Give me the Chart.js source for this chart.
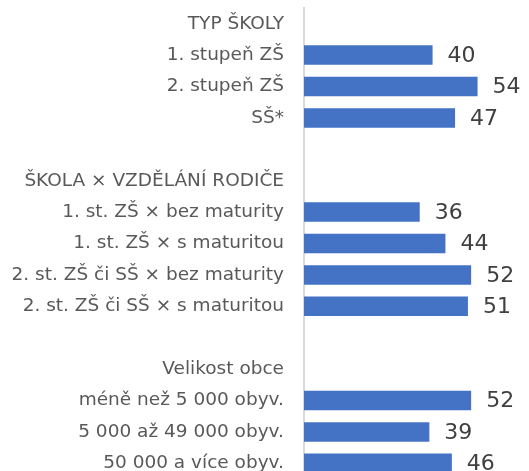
<!DOCTYPE html>
<html>
<head>
<meta charset="utf-8">
<script src="https://cdn.jsdelivr.net/npm/chart.js@4/dist/chart.umd.min.js"></script>
<style>
  html, body { margin: 0; padding: 0; background: #fff; overflow: hidden; }
  #wrap { width: 529px; height: 480px; }
</style>
</head>
<body>
<div id="wrap"><canvas id="chart"></canvas></div>
<script>
// kategorie (včetně nadpisů skupin a prázdných řádků)
const categories = [
    'TYP ŠKOLY',
    '1. stupeň ZŠ',
    '2. stupeň ZŠ',
    'SŠ*',
    '',
    'ŠKOLA × VZDĚLÁNÍ RODIČE',
    '1. st. ZŠ × bez maturity',
    '1. st. ZŠ × s maturitou',
    '2. st. ZŠ či SŠ × bez maturity',
    '2. st. ZŠ či SŠ × s maturitou',
    ' ',
    'Velikost obce',
    'méně než 5 000 obyv.',
    '5 000 až 49 000 obyv.',
    '50 000 a více obyv.'
];
const values = [null, 40, 54, 47, null, null, 36, 44, 52, 51, null, null, 52, 39, 46];

const fontFamily = 'DejaVu Sans';

// popisky hodnot vpravo od sloupců
const valueLabels = {
    id: 'valueLabels',
    afterDatasetsDraw(chart) {
        const ctx = chart.ctx;
        const meta = chart.getDatasetMeta(0);
        ctx.save();
        ctx.font = '22px "' + fontFamily + '"';
        ctx.fillStyle = '#404040';
        ctx.textAlign = 'left';
        ctx.textBaseline = 'middle';
        meta.data.forEach((bar, i) => {
            if (values[i] == null) return;
            ctx.fillText(String(values[i]), bar.x + 15, bar.y + 1);
        });
        ctx.restore();
    }
};

new Chart(document.getElementById('chart'), {
    type: 'bar',
    data: {
        labels: categories,
        datasets: [{
            data: values,
            backgroundColor: '#4472C4',
            borderWidth: 0,
            categoryPercentage: 1,
            barPercentage: 0.62
        }]
    },
    options: {
        indexAxis: 'y',
        responsive: true,
        maintainAspectRatio: false,
        animation: false,
        layout: { padding: { top: 8, right: 0, bottom: 1, left: 0 } },
        plugins: {
            legend: { display: false },
            tooltip: { enabled: false }
        },
        scales: {
            x: {
                display: false,
                min: 0,
                max: 70
            },
            y: {
                afterFit: s => {
                    s.width = 304;
                    s.paddingTop = 0;
                    s.paddingBottom = 0;
                },
                grid: { display: false, drawTicks: false },
                border: { display: true, color: '#d9d9d9', width: 2 },
                ticks: {
                    padding: 20,
                    color: '#595959',
                    font: { family: fontFamily, size: 18.5 },
                    autoSkip: false
                }
            }
        }
    },
    plugins: [valueLabels]
});
</script>
</body>
</html>
